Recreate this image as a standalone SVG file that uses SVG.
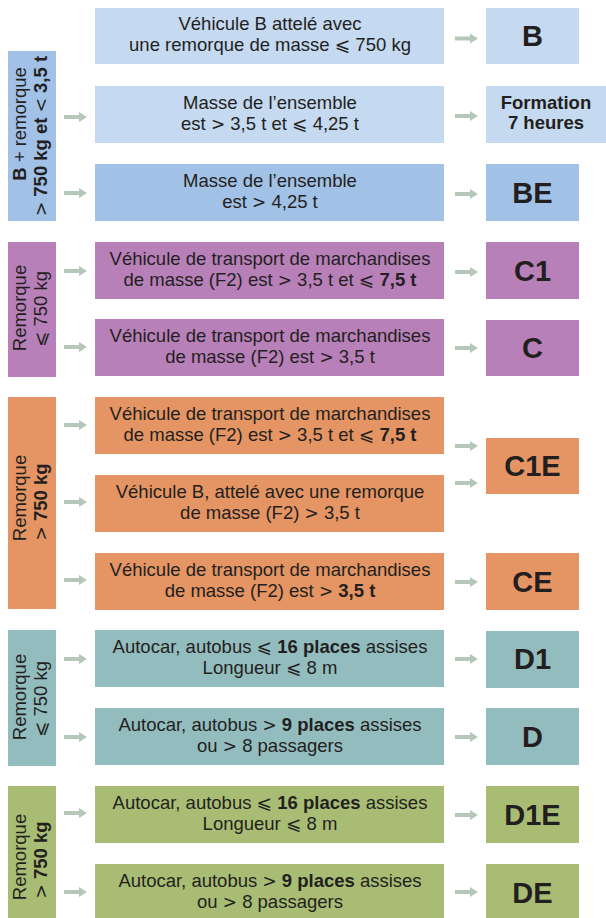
<svg xmlns="http://www.w3.org/2000/svg" xmlns:xlink="http://www.w3.org/1999/xlink" width="606" height="918" viewBox="0 0 606 918">
<defs>
<style>
.t{font-family:"Liberation Sans","DejaVu Sans",Arial,sans-serif;font-size:18.5px;fill:#231f20;text-anchor:middle}
.b{font-weight:bold}
.m{font-family:"DejaVu Sans",sans-serif;font-size:17px;font-weight:normal}
.big{font-family:"Liberation Sans","DejaVu Sans",Arial,sans-serif;font-size:29px;font-weight:bold;fill:#231f20;text-anchor:middle}
.lb{fill:#c5d9f1}
.db{fill:#a2c1e6}
.pu{fill:#b880b9}
.or{fill:#e49563}
.te{fill:#93bcbf}
.gr{fill:#a8bd73}
.arr{fill:#b4c7b8}
</style>
<path id="arrow" d="M0,-2 H15 V-5 L23,0 L15,5 V2 H0 Z"/>
</defs>
<rect width="606" height="918" fill="#ffffff"/>

<!-- left category bars -->
<g id="bar-blue">
<rect class="db" x="8" y="51" width="48" height="170"/>
<text class="t" transform="translate(26,124) rotate(-90)"><tspan class="b">B</tspan> + remorque</text>
<text class="t" transform="translate(47,136) rotate(-90)"><tspan class="m">&gt;</tspan> <tspan class="b">750 kg et</tspan> <tspan class="m">&lt;</tspan> <tspan class="b">3,5 t</tspan></text>
</g>
<g id="bar-purple">
<rect class="pu" x="8" y="242" width="48" height="135"/>
<text class="t" transform="translate(26,308) rotate(-90)">Remorque</text>
<text class="t" transform="translate(47,309) rotate(-90)">⩽ 750 kg</text>
</g>
<g id="bar-orange">
<rect class="or" x="8" y="397" width="48" height="212"/>
<text class="t" transform="translate(26,498) rotate(-90)">Remorque</text>
<text class="t" transform="translate(47,502) rotate(-90)"><tspan class="m">&gt;</tspan> <tspan class="b">750 kg</tspan></text>
</g>
<g id="bar-teal">
<rect class="te" x="8" y="630" width="48" height="136"/>
<text class="t" transform="translate(26,697) rotate(-90)">Remorque</text>
<text class="t" transform="translate(47,699) rotate(-90)">⩽ 750 kg</text>
</g>
<g id="bar-green">
<rect class="gr" x="8" y="786" width="48" height="140"/>
<text class="t" transform="translate(26,857) rotate(-90)">Remorque</text>
<text class="t" transform="translate(47,860) rotate(-90)"><tspan class="m">&gt;</tspan> <tspan class="b">750 kg</tspan></text>
</g>

<!-- middle condition boxes -->
<g id="cond1">
<rect class="lb" x="95" y="8" width="349" height="56"/>
<text class="t" x="270" y="30">Véhicule B attelé avec</text>
<text class="t" x="270" y="51">une remorque de masse ⩽ 750 kg</text>
</g>
<g id="cond2">
<rect class="lb" x="95" y="86" width="349" height="57"/>
<text class="t" x="270" y="108.5">Masse de l’ensemble</text>
<text class="t" x="270" y="129.5">est <tspan class="m">&gt;</tspan> 3,5 t et ⩽ 4,25 t</text>
</g>
<g id="cond3">
<rect class="db" x="95" y="164" width="349" height="57"/>
<text class="t" x="270" y="186.5">Masse de l’ensemble</text>
<text class="t" x="270" y="207.5">est <tspan class="m">&gt;</tspan> 4,25 t</text>
</g>
<g id="cond4">
<rect class="pu" x="95" y="242" width="349" height="57"/>
<text class="t" x="270" y="264.5">Véhicule de transport de marchandises</text>
<text class="t" x="270" y="285.5">de masse (F2) est <tspan class="m">&gt;</tspan> 3,5 t et ⩽ <tspan class="b">7,5 t</tspan></text>
</g>
<g id="cond5">
<rect class="pu" x="95" y="319" width="349" height="57"/>
<text class="t" x="270" y="341.5">Véhicule de transport de marchandises</text>
<text class="t" x="270" y="362.5">de masse (F2) est <tspan class="m">&gt;</tspan> 3,5 t</text>
</g>
<g id="cond6">
<rect class="or" x="95" y="397" width="349" height="57"/>
<text class="t" x="270" y="419.5">Véhicule de transport de marchandises</text>
<text class="t" x="270" y="440.5">de masse (F2) est <tspan class="m">&gt;</tspan> 3,5 t et ⩽ <tspan class="b">7,5 t</tspan></text>
</g>
<g id="cond7">
<rect class="or" x="95" y="475" width="349" height="57"/>
<text class="t" x="270" y="497.5">Véhicule B, attelé avec une remorque</text>
<text class="t" x="270" y="518.5">de masse (F2) <tspan class="m">&gt;</tspan> 3,5 t</text>
</g>
<g id="cond8">
<rect class="or" x="95" y="553" width="349" height="57"/>
<text class="t" x="270" y="575.5">Véhicule de transport de marchandises</text>
<text class="t" x="270" y="596.5">de masse (F2) est <tspan class="m">&gt;</tspan> <tspan class="b">3,5 t</tspan></text>
</g>
<g id="cond9">
<rect class="te" x="95" y="630" width="349" height="57"/>
<text class="t" x="270" y="652.5">Autocar, autobus ⩽ <tspan class="b">16 places</tspan> assises</text>
<text class="t" x="270" y="673.5">Longueur ⩽ 8 m</text>
</g>
<g id="cond10">
<rect class="te" x="95" y="708" width="349" height="57"/>
<text class="t" x="270" y="730.5">Autocar, autobus <tspan class="m">&gt;</tspan> <tspan class="b">9 places</tspan> assises</text>
<text class="t" x="270" y="751.5">ou <tspan class="m">&gt;</tspan> 8 passagers</text>
</g>
<g id="cond11">
<rect class="gr" x="95" y="786" width="349" height="57"/>
<text class="t" x="270" y="808.5">Autocar, autobus ⩽ <tspan class="b">16 places</tspan> assises</text>
<text class="t" x="270" y="829.5">Longueur ⩽ 8 m</text>
</g>
<g id="cond12">
<rect class="gr" x="95" y="864" width="349" height="60"/>
<text class="t" x="270" y="886.5">Autocar, autobus <tspan class="m">&gt;</tspan> <tspan class="b">9 places</tspan> assises</text>
<text class="t" x="270" y="907.5">ou <tspan class="m">&gt;</tspan> 8 passagers</text>
</g>

<!-- right result boxes -->
<g id="res-B">
<rect class="lb" x="486" y="8" width="93" height="56"/>
<text class="big" x="532.5" y="46">B</text>
</g>
<g id="res-formation">
<rect class="lb" x="486" y="86" width="120" height="57"/>
<text class="t b" x="546" y="109">Formation</text>
<text class="t b" x="546" y="129">7 heures</text>
</g>
<g id="res-BE">
<rect class="db" x="486" y="164" width="93" height="57"/>
<text class="big" x="532.5" y="203">BE</text>
</g>
<g id="res-C1">
<rect class="pu" x="486" y="242" width="93" height="57"/>
<text class="big" x="532.5" y="281">C1</text>
</g>
<g id="res-C">
<rect class="pu" x="486" y="320" width="93" height="56"/>
<text class="big" x="532.5" y="358">C</text>
</g>
<g id="res-C1E">
<rect class="or" x="486" y="438" width="93" height="56"/>
<text class="big" x="532.5" y="476">C1E</text>
</g>
<g id="res-CE">
<rect class="or" x="486" y="553" width="93" height="57"/>
<text class="big" x="532.5" y="592">CE</text>
</g>
<g id="res-D1">
<rect class="te" x="486" y="631" width="93" height="57"/>
<text class="big" x="532.5" y="669">D1</text>
</g>
<g id="res-D">
<rect class="te" x="486" y="708" width="93" height="57"/>
<text class="big" x="532.5" y="747">D</text>
</g>
<g id="res-D1E">
<rect class="gr" x="486" y="786" width="93" height="57"/>
<text class="big" x="532.5" y="825">D1E</text>
</g>
<g id="res-DE">
<rect class="gr" x="486" y="864" width="93" height="60"/>
<text class="big" x="532.5" y="903">DE</text>
</g>

<!-- connectors -->
<g id="connectors" class="arr">
<use xlink:href="#arrow" x="64" y="117"/>
<use xlink:href="#arrow" x="64" y="193"/>
<use xlink:href="#arrow" x="64" y="271"/>
<use xlink:href="#arrow" x="64" y="347"/>
<use xlink:href="#arrow" x="64" y="425"/>
<use xlink:href="#arrow" x="64" y="502"/>
<use xlink:href="#arrow" x="64" y="580"/>
<use xlink:href="#arrow" x="64" y="659"/>
<use xlink:href="#arrow" x="64" y="737"/>
<use xlink:href="#arrow" x="64" y="813"/>
<use xlink:href="#arrow" x="64" y="892"/>
<use xlink:href="#arrow" x="455" y="38.5"/>
<use xlink:href="#arrow" x="455" y="116"/>
<use xlink:href="#arrow" x="455" y="194"/>
<use xlink:href="#arrow" x="455" y="272"/>
<use xlink:href="#arrow" x="455" y="348"/>
<use xlink:href="#arrow" x="455" y="446"/>
<use xlink:href="#arrow" x="455" y="483"/>
<use xlink:href="#arrow" x="455" y="582"/>
<use xlink:href="#arrow" x="455" y="659"/>
<use xlink:href="#arrow" x="455" y="737"/>
<use xlink:href="#arrow" x="455" y="815"/>
<use xlink:href="#arrow" x="455" y="892"/>
</g>
</svg>
